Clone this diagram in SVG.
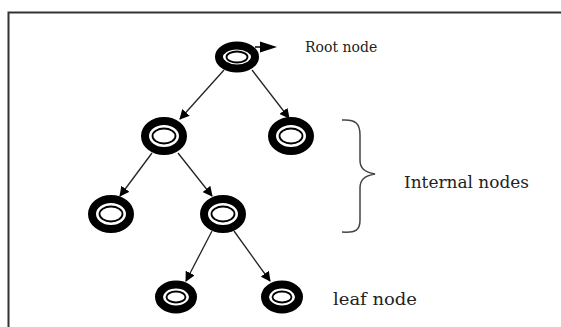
<svg xmlns="http://www.w3.org/2000/svg" width="561" height="327" viewBox="0 0 561 327">
<defs>
<marker id="ah" viewBox="0 0 10 10" refX="9" refY="5" markerWidth="10" markerHeight="10" markerUnits="userSpaceOnUse" orient="auto">
<path d="M0,0 L10,5 L0,10 Z" fill="#000"/>
</marker>
</defs>
<style>
.outer{fill:#fff;stroke:#000;stroke-width:8}
.inner{fill:#fff;stroke:#000;stroke-width:1.8}
.edge{stroke:#222;stroke-width:1.3;fill:none;marker-end:url(#ah)}
.lbl{font-family:"DejaVu Serif",serif;fill:#222}
</style>
<rect width="561" height="327" fill="#fff"/>
<path d="M8.5,327 V12.5 H561" fill="none" stroke="#333" stroke-width="2"/>
<g id="connectors">
<line class="edge" x1="224" y1="70" x2="180" y2="119"/>
<line class="edge" x1="252" y1="70" x2="289" y2="118"/>
<line class="edge" x1="152" y1="153" x2="120" y2="196"/>
<line class="edge" x1="178" y1="153" x2="212" y2="196"/>
<line class="edge" x1="212" y1="231" x2="186" y2="281"/>
<line class="edge" x1="234" y1="231" x2="270" y2="281"/>
<line stroke="#000" stroke-width="1.5" x1="255" y1="47" x2="262" y2="47"/>
<path d="M260,41.5 L277,47 L260,52.5 Z" fill="#000"/>
</g>
<g id="root">
<ellipse class="outer" cx="237" cy="57" rx="18" ry="11.5"/>
<ellipse class="inner" cx="237" cy="57" rx="10.5" ry="5.5"/>
</g>
<g id="n1">
<ellipse class="outer" cx="164" cy="136" rx="19" ry="15"/>
<ellipse class="inner" cx="164" cy="136" rx="11.5" ry="7.5"/>
</g>
<g id="n2">
<ellipse class="outer" cx="291" cy="136" rx="19" ry="15"/>
<ellipse class="inner" cx="291" cy="136" rx="11.5" ry="7.5"/>
</g>
<g id="n3">
<ellipse class="outer" cx="111" cy="214" rx="19" ry="15"/>
<ellipse class="inner" cx="111" cy="214" rx="11.5" ry="7.5"/>
</g>
<g id="n4">
<ellipse class="outer" cx="223" cy="214" rx="19" ry="15"/>
<ellipse class="inner" cx="223" cy="214" rx="11.5" ry="7.5"/>
</g>
<g id="n5">
<ellipse class="outer" cx="176" cy="297" rx="17" ry="12.5"/>
<ellipse class="inner" cx="176" cy="297" rx="9.5" ry="5.5"/>
</g>
<g id="n6">
<ellipse class="outer" cx="282" cy="297" rx="17" ry="12.5"/>
<ellipse class="inner" cx="282" cy="297" rx="9.5" ry="5.5"/>
</g>
<g id="brace">
<path d="M342,120 C356,119 360,124 360,135 V160 C360,168 364,172 375,174 C364,176 360,180 360,188 V220 C360,230 356,233 342,232" fill="none" stroke="#444" stroke-width="1.5"/>
</g>
<text class="lbl" x="305" y="52" font-size="14">Root node</text>
<text class="lbl" x="404" y="188" font-size="16" textLength="125" lengthAdjust="spacingAndGlyphs">Internal nodes</text>
<text class="lbl" x="333" y="305" font-size="16" textLength="84" lengthAdjust="spacingAndGlyphs">leaf node</text>
</svg>
